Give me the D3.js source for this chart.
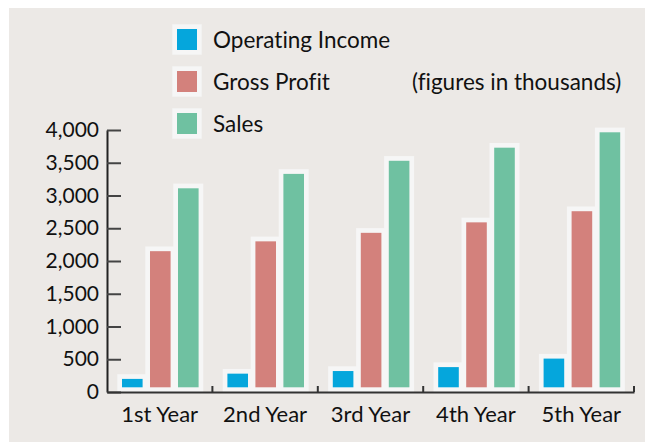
<!DOCTYPE html>
<html>
<head>
<meta charset="utf-8">
<script src="https://cdn.jsdelivr.net/npm/d3@7"></script>
<style>
  body { margin: 0; background: #fff; }
  svg text { font-family: Lato, "Open Sans", sans-serif; fill: #111; font-variant-ligatures: none; }
</style>
</head>
<body>
<script>
//////////////// Data ////////////////////
var years = ["1st Year", "2nd Year", "3rd Year", "4th Year", "5th Year"];
var series = ["Operating Income", "Gross Profit", "Sales"];
var operatingIncome = [200, 280, 320, 380, 510];
var grossProfit = [2150, 2300, 2430, 2590, 2760];
var sales = [3110, 3330, 3530, 3730, 3965];
var yTicks = [0, 500, 1000, 1500, 2000, 2500, 3000, 3500, 4000];
var colors = ["#05a6dc", "#d3817c", "#6fc1a1"];

var rows = years.map(function(y, i) {
  return {year: y, values: [operatingIncome[i], grossProfit[i], sales[i]]};
});

//////////////// SVG ////////////////////
var W = 647, H = 442;
var svg = d3.select("body").append("svg")
  .attr("width", W).attr("height", H);

// grey panel
svg.append("rect")
  .attr("x", 9).attr("y", 8)
  .attr("width", 636).attr("height", H - 8)
  .attr("fill", "#ece9e6");

var margin = {left: 107, top: 130, right: 13, bottom: 50};
var g = svg.append("g").attr("transform", "translate(" + margin.left + "," + margin.top + ")");
var width = W - margin.left - margin.right,   // ~527
    height = 392 - margin.top;

//////////////// Scales ////////////////////
var x0 = d3.scaleBand().domain(years).range([0, width]).padding(0);
var x1 = d3.scaleBand().domain(series)
  .range([15, 91.6])
  .paddingInner(0.264).paddingOuter(0);
var y = d3.scaleLinear().domain([0, 4000]).range([height, 0]);

var halo = 4.7;

//////////////// Bars ////////////////////
var groups = g.selectAll("g.year")
  .data(rows).enter().append("g")
  .attr("class", "year")
  .attr("transform", function(d) { return "translate(" + x0(d.year) + ",0)"; });

// white halo behind each bar, down to the axis
groups.selectAll("rect.halo")
  .data(function(d) { return d.values.map(function(v, i) { return {s: series[i], v: v, i: i}; }); })
  .enter().append("rect")
  .attr("class", "halo")
  .attr("x", function(d) { return x1(d.s) - halo; })
  .attr("y", function(d) { return y(d.v) - halo; })
  .attr("width", x1.bandwidth() + 2 * halo)
  .attr("height", function(d) { return y(0) - y(d.v) + halo; })
  .attr("fill", "#f6f6f6");

groups.selectAll("rect.bar")
  .data(function(d) { return d.values.map(function(v, i) { return {s: series[i], v: v, i: i}; }); })
  .enter().append("rect")
  .attr("class", "bar")
  .attr("x", function(d) { return x1(d.s); })
  .attr("y", function(d) { return y(d.v); })
  .attr("width", x1.bandwidth())
  .attr("height", function(d) { return y(0) - y(d.v) - halo; })
  .attr("fill", function(d) { return colors[d.i]; });

//////////////// Axes ////////////////////
var yAxis = d3.axisLeft(y)
  .tickValues(yTicks)
  .tickFormat(d3.format(","))
  .tickSizeInner(-14)
  .tickSizeOuter(0)
  .tickPadding(8);

var yG = g.append("g").attr("class", "y axis").call(yAxis);
yG.select(".domain").attr("stroke", "#222").attr("stroke-width", 2);
yG.selectAll(".tick line").attr("stroke", "#444").attr("stroke-width", 2);
yG.selectAll("text").style("font-size", "21px").attr("fill", "#111");

var xAxis = d3.axisBottom(x0).tickSize(0).tickPadding(14);
var xG = g.append("g").attr("class", "x axis")
  .attr("transform", "translate(0," + height + ")")
  .call(xAxis);
xG.select(".domain").attr("stroke", "#333").attr("stroke-width", 2);
xG.selectAll("text").style("font-size", "22px").attr("fill", "#111");

// small upward ticks on the group boundaries
xG.selectAll("line.sep")
  .data(years).enter().append("line")
  .attr("class", "sep")
  .attr("x1", function(d) { return x0(d) + x0.bandwidth(); })
  .attr("x2", function(d) { return x0(d) + x0.bandwidth(); })
  .attr("y1", 0).attr("y2", -6)
  .attr("stroke", "#333").attr("stroke-width", 2);

//////////////// Legend ////////////////////
var legend = svg.append("g").attr("class", "legend");
var legItems = legend.selectAll("g")
  .data(series).enter().append("g")
  .attr("transform", function(d, i) { return "translate(177," + (29 + i * 42) + ")"; });

legItems.append("rect")
  .attr("x", -halo).attr("y", -halo)
  .attr("width", 20 + 2 * halo).attr("height", 21 + 2 * halo)
  .attr("fill", "#f6f6f6");
legItems.append("rect")
  .attr("width", 20).attr("height", 21)
  .attr("fill", function(d, i) { return colors[i]; });
legItems.append("text")
  .attr("x", 36).attr("y", 19)
  .style("font-size", "22.5px")
  .text(function(d) { return d; });

svg.append("text")
  .attr("x", 412).attr("y", 48 + 42)
  .style("font-size", "22.5px")
  .text("(figures in thousands)");
</script>
</body>
</html>
